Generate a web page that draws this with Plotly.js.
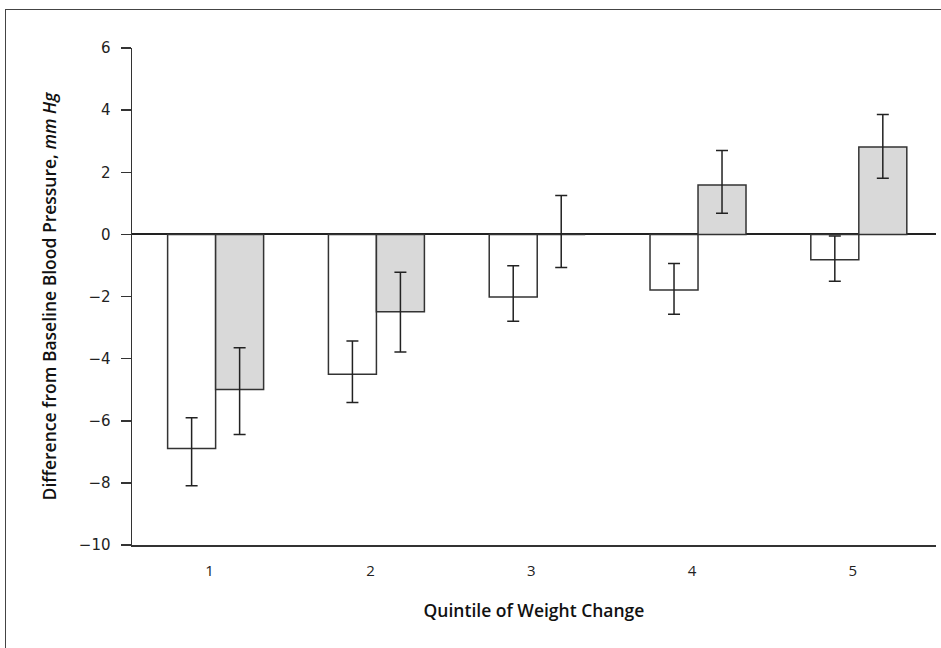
<!DOCTYPE html>
<html>
<head>
<meta charset="utf-8">
<script src="https://cdn.plot.ly/plotly-3.0.1.min.js"></script>
<style>
  html, body { margin: 0; padding: 0; background: #fff; overflow: hidden; }
  #wrap { position: relative; width: 941px; height: 648px; overflow: hidden; }
  #chart { width: 941px; height: 648px; }
  #frame { position: absolute; left: 5px; top: 9px; width: 1200px; height: 1200px;
           border-top: 1.5px solid #444; border-left: 1.5px solid #444; pointer-events: none; }
</style>
</head>
<body>
<div id="wrap">
  <div id="chart"></div>
  <div id="frame"></div>
</div>
<script>
// Quintile categories
const quintiles = ["1", "2", "3", "4", "5"];

// Series A (white bars)
const seriesA = [-6.89, -4.50, -2.02, -1.79, -0.82];
const seriesA_upper = [-5.90, -3.43, -1.01, -0.94, -0.05];
const seriesA_lower = [-8.09, -5.41, -2.80, -2.57, -1.51];

// Series B (gray bars)
const seriesB = [-4.99, -2.49, 0.0, 1.59, 2.81];
const seriesB_upper = [-3.65, -1.22, 1.25, 2.70, 3.86];
const seriesB_lower = [-6.44, -3.79, -1.07, 0.68, 1.81];

// Y-axis ticks
const yTickVals = [6, 4, 2, 0, -2, -4, -6, -8, -10];

const idx = quintiles.map((_, i) => i);
const plus = (v, up) => v.map((d, i) => up[i] - d);
const minus = (v, lo) => v.map((d, i) => d - lo[i]);

const errStyle = { type: "data", symmetric: false, color: "#222", thickness: 1.5, width: 6 };

const traces = [
  {
    type: "bar", x: idx, y: seriesA, name: "A",
    marker: { color: "#ffffff", line: { color: "#333", width: 1.5 } },
    error_y: Object.assign({ array: plus(seriesA, seriesA_upper), arrayminus: minus(seriesA, seriesA_lower) }, errStyle),
    hoverinfo: "y"
  },
  {
    type: "bar", x: idx, y: seriesB, name: "B",
    marker: { color: "#d9d9d9", line: { color: "#333", width: 1.5 } },
    error_y: Object.assign({ array: plus(seriesB, seriesB_upper), arrayminus: minus(seriesB, seriesB_lower) }, errStyle),
    hoverinfo: "y"
  }
];

const layout = {
  width: 941, height: 648,
  margin: { l: 132, r: 5, t: 48, b: 103, pad: 0 },
  paper_bgcolor: "#fff", plot_bgcolor: "#fff",
  showlegend: false,
  barmode: "group", bargap: 0.403, bargroupgap: 0,
  font: { family: "Open Sans, Noto Sans, sans-serif", color: "#222" },
  xaxis: {
    range: [-0.52, 4.48],
    tickmode: "array", tickvals: idx, ticktext: quintiles,
    ticks: "", showgrid: false, zeroline: false,
    showline: true, linecolor: "#333", linewidth: 1.5,
    ticklabelshift: -6, ticklabelstandoff: 11,
    tickfont: { size: 15, color: "#222", family: "Open Sans, sans-serif" },
    title: { text: "Quintile of Weight Change", standoff: 26,
             font: { size: 17.5, color: "#111", family: "Open Sans, sans-serif", weight: 600 } },
    fixedrange: true
  },
  yaxis: {
    range: [-10, 6],
    tickmode: "array", tickvals: yTickVals,
    ticks: "outside", ticklen: 10, tickwidth: 1.5, tickcolor: "#333",
    showgrid: false,
    zeroline: true, zerolinecolor: "#222", zerolinewidth: 2,
    showline: true, linecolor: "#333", linewidth: 1.5,
    ticklabelstandoff: 7,
    tickfont: { size: 15, color: "#222", family: "DejaVu Sans, sans-serif" },
    title: { text: "Difference from Baseline Blood Pressure, <i>mm Hg</i>", standoff: 17,
             font: { size: 17.5, color: "#111", family: "Open Sans, sans-serif", weight: 600 } },
    fixedrange: true
  }
};

Plotly.newPlot("chart", traces, layout, { displayModeBar: false, staticPlot: true });
</script>
</body>
</html>
